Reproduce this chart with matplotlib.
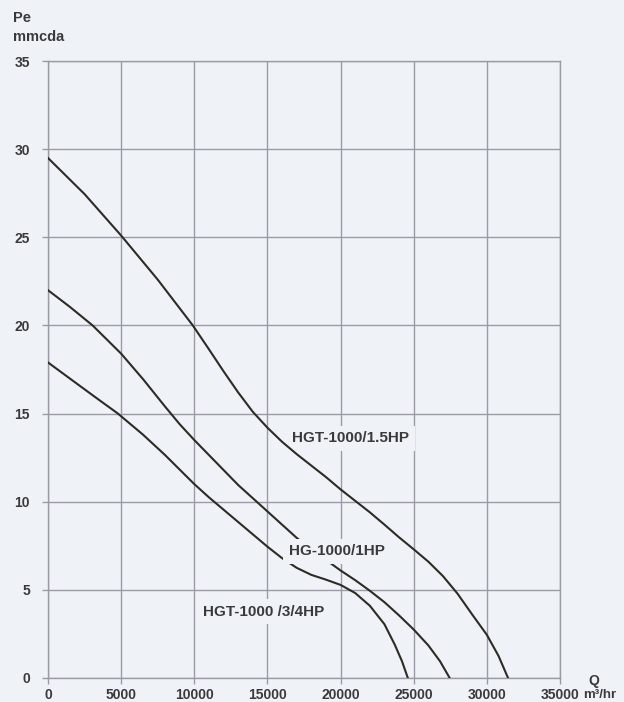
'''
Fan curves: static pressure vs air flow for three HG fan models
'''
import matplotlib
matplotlib.use("Agg")
import matplotlib.pyplot as plt

# air flow (m3/hr) and pressure (mmcda)
hgt15_q = [0, 2500, 5000, 7500, 9900, 11000, 12000, 13000, 14000, 15000, 16000, 17000,
           18000, 19000, 20000, 21000, 22000, 23000, 24000, 25000, 26000, 27000, 28000,
           29000, 30000, 30800, 31450]
hgt15_p = [29.5, 27.45, 25.1, 22.6, 20.0, 18.65, 17.4, 16.2, 15.1, 14.2, 13.4, 12.7,
           12.05, 11.4, 10.7, 10.05, 9.4, 8.7, 7.98, 7.3, 6.6, 5.78, 4.78,
           3.6, 2.45, 1.25, 0.0]

hg1_q = [0, 1500, 3050, 5000, 6500, 8000, 9000, 10000, 11000, 12000, 13000, 14000,
         15000, 16000, 17000, 18000, 19000, 20000, 21000, 22000, 23000, 24000, 25000,
         26000, 26800, 27460]
hg1_p = [22.0, 21.05, 20.0, 18.4, 16.95, 15.4, 14.4, 13.5, 12.65, 11.8, 10.95, 10.2,
         9.45, 8.7, 7.95, 7.3, 6.7, 6.1, 5.55, 4.95, 4.3, 3.55, 2.75,
         1.85, 0.95, 0.0]

hgt34_q = [0, 1640, 3200, 4780, 6500, 8000, 10000, 11000, 12000, 13000, 14000, 15000,
           16000, 17000, 18000, 19000, 20000, 21000, 22000, 23000, 23700, 24200, 24600]
hgt34_p = [17.9, 16.9, 15.95, 15.0, 13.8, 12.65, 11.0, 10.25, 9.55, 8.85, 8.15, 7.45,
           6.8, 6.25, 5.85, 5.58, 5.28, 4.82, 4.1, 3.05, 1.9, 0.95, 0.0]

curve_names = ["HGT-1000/1.5HP", "HG-1000/1HP", "HGT-1000 /3/4HP"]
label_q = [16700, 16450, 10570]     # left edge of each curve label
label_p = [13.6, 7.2, 3.75]

x_ticks = [0, 5000, 10000, 15000, 20000, 25000, 30000, 35000]
y_ticks = [0, 5, 10, 15, 20, 25, 30, 35]

BG = "#eff3f8"
GRID = "#9b9ba6"
INK = "#2c2c24"
TXT = "#3a3a3a"


def plot_curves():
    """
    Draw the three fan curves on a square grid and save out.png
    :return: nothing
    """
    plt.rcParams['font.family'] = ['Liberation Sans', 'DejaVu Sans']
    fig = plt.figure(figsize=(6.24, 7.02), dpi=100, facecolor=BG)
    ax = fig.add_axes([0.0769, 0.0342, 0.8205, 0.8789], facecolor=BG)

    for q, p in [(hgt15_q, hgt15_p), (hg1_q, hg1_p), (hgt34_q, hgt34_p)]:
        ax.plot(q, p, color=INK, lw=1.5, zorder=3, solid_joinstyle='round')

    for i in range(len(curve_names)):
        z = 4 if i == 1 else 2      # the 1HP label cuts its own curve
        ax.text(label_q[i], label_p[i], curve_names[i], fontsize=11, fontweight='bold',
                color=TXT, ha='left', va='center', zorder=z,
                bbox=dict(facecolor=BG, edgecolor='none', pad=4))

    ax.set_xlim(0, 35000)
    ax.set_ylim(0, 35)
    ax.set_xticks(x_ticks)
    ax.set_yticks(y_ticks)
    ax.set_xticklabels([str(v) for v in x_ticks], fontsize=10, fontweight='bold', color=TXT)
    ax.set_yticklabels([str(v) for v in y_ticks], fontsize=10, fontweight='bold', color=TXT)
    ax.tick_params(axis='both', direction='out', length=4, width=1, color=GRID)
    ax.tick_params(axis='x', pad=3)
    ax.tick_params(axis='y', pad=9)
    ax.grid(True, color=GRID, lw=1)
    ax.set_axisbelow(True)
    for s in ax.spines.values():
        s.set_color(GRID)
        s.set_linewidth(1)

    # axis titles sit in the corners, not along the axes
    fig.text(13 / 624, 1 - 18 / 702, "Pe", fontsize=10.5, fontweight='bold', color=TXT,
             ha='left', va='center')
    fig.text(13 / 624, 1 - 37 / 702, "mmcda", fontsize=10.5, fontweight='bold', color=TXT,
             ha='left', va='center')
    fig.text(594 / 624, 1 - 681 / 702, "Q", fontsize=10, fontweight='bold', color=TXT,
             ha='center', va='center')
    fig.text(583 / 624, 1 - 695 / 702, "m\u00b3/hr", fontsize=9.5, fontweight='bold', color=TXT,
             ha='left', va='center')

    fig.savefig("out.png", dpi=100, facecolor=BG)


def main():
    plot_curves()


if __name__ == '__main__':
    main()
